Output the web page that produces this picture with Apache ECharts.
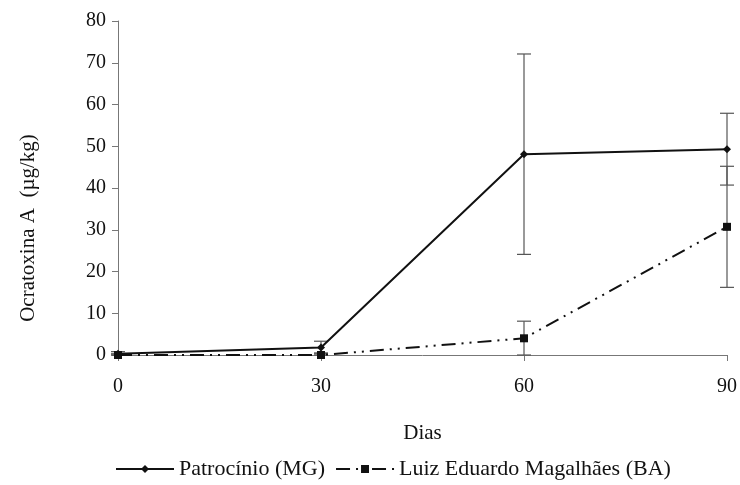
<!DOCTYPE html>
<html><head><meta charset="utf-8">
<script src="https://cdn.jsdelivr.net/npm/echarts@6/dist/echarts.min.js"></script>
<style>html,body{margin:0;padding:0;background:#fff}#c{width:740px;height:485px}</style>
</head><body><div id="c"></div>
<script>
const days = [0, 30, 60, 90];
const patrocinio = [0.3, 1.8, 48.1, 49.3];
const patrocinioErr = [0.5, 1.5, 24.0, 8.6];
const lem = [0.0, 0.0, 4.0, 30.7];
const lemErr = [0.3, 0.5, 4.1, 14.5];
const yTicks = [0, 10, 20, 30, 40, 50, 60, 70, 80];
const yTitle = 'Ocratoxina A  (µg/kg)';
const xTitle = 'Dias';

const font = 'Liberation Serif';
const chart = echarts.init(document.getElementById('c'));

function errData(vals, errs){
  return days.map((d,i)=>[d, vals[i]-errs[i], vals[i]+errs[i]]);
}
function errRender(params, api){
  const x = api.value(0);
  const lo = api.coord([x, Math.max(api.value(1), 0)]);
  const hi = api.coord([x, api.value(2)]);
  const cap = 7;
  const style = {stroke:'#555', lineWidth:1.2};
  return {type:'group', children:[
    {type:'line', shape:{x1:lo[0],y1:lo[1],x2:hi[0],y2:hi[1]}, style},
    {type:'line', shape:{x1:hi[0]-cap,y1:hi[1],x2:hi[0]+cap,y2:hi[1]}, style},
    {type:'line', shape:{x1:lo[0]-cap,y1:lo[1],x2:lo[0]+cap,y2:lo[1]}, style}
  ]};
}

chart.setOption({
  animation:false,
  backgroundColor:'#fff',
  grid:{left:118, right:11, top:21, bottom:130},
  graphic:[{
    type:'text', x:28, y:228, rotation:Math.PI/2,
    style:{text:yTitle, fontFamily:font, fontSize:21, fill:'#111', align:'center', verticalAlign:'middle'}
  }],
  legend:{
    top:453, left:110,
    itemGap:10, itemWidth:58, itemHeight:10,
    textStyle:{fontFamily:font, fontSize:22, color:'#111'},
    data:['Patrocínio (MG)','Luiz Eduardo Magalhães (BA)']
  },
  xAxis:{
    type:'value', min:0, max:90, interval:30,
    name:xTitle, nameLocation:'middle', nameGap:68,
    nameTextStyle:{fontFamily:font, fontSize:21, color:'#111'},
    axisLine:{lineStyle:{color:'#777', width:1}},
    axisTick:{show:true, inside:false, length:6, lineStyle:{color:'#777'}},
    axisLabel:{fontFamily:font, fontSize:20, color:'#111', margin:22},
    splitLine:{show:false}
  },
  yAxis:{
    type:'value', min:0, max:80, interval:10,
    axisLine:{show:true, lineStyle:{color:'#777', width:1}},
    axisTick:{show:true, length:6, lineStyle:{color:'#777'}},
    axisLabel:{fontFamily:font, fontSize:20, color:'#111', margin:12,
      formatter:v=>yTicks.includes(v)?String(v):''},
    splitLine:{show:false}
  },
  series:[
    {type:'custom', renderItem:errRender, data:errData(patrocinio, patrocinioErr), z:1, silent:true},
    {type:'custom', renderItem:errRender, data:errData(lem, lemErr), z:1, silent:true},
    {
      name:'Patrocínio (MG)', type:'line',
      data:days.map((d,i)=>[d, patrocinio[i]]),
      symbol:'diamond', symbolSize:8,
      lineStyle:{color:'#111', width:2, type:'solid'},
      itemStyle:{color:'#111'}, z:3
    },
    {
      name:'Luiz Eduardo Magalhães (BA)', type:'line',
      data:days.map((d,i)=>[d, lem[i]]),
      symbol:'rect', symbolSize:8,
      lineStyle:{color:'#111', width:2, type:[14,6,2,6,2,6]},
      itemStyle:{color:'#111'}, z:3
    }
  ]
});
</script></body></html>
